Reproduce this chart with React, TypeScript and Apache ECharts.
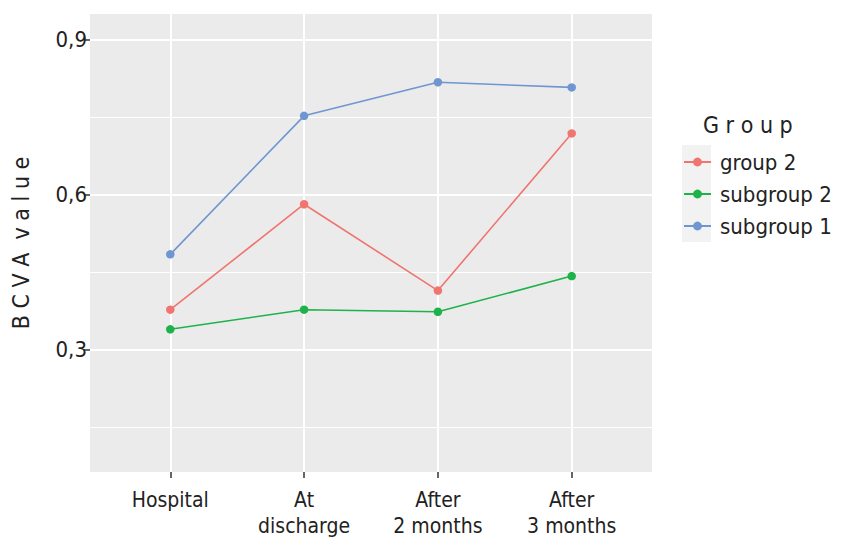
import React, { useEffect, useRef } from "react";
import * as echarts from "echarts";

const categories = ["Hospital", "At\ndischarge", "After\n2 months", "After\n3 months"];
const xPositions = [1, 2, 3, 4];
const seriesNames = ["group 2", "subgroup 2", "subgroup 1"];
const group2 = [0.377, 0.581, 0.414, 0.718];
const subgroup2 = [0.339, 0.377, 0.373, 0.442];
const subgroup1 = [0.484, 0.752, 0.817, 0.807];
const majorY = [0.3, 0.6, 0.9];
const minorY = [0.15, 0.45, 0.75];
const yTickLabels = ["0,3", "0,6", "0,9"];
const colors = ["#F07470", "#1DB34A", "#6F96D1"];

const FONT = "'DejaVu Sans Condensed', 'Liberation Sans Narrow', sans-serif";

export default function App() {
  const ref = useRef<HTMLDivElement>(null);
  useEffect(() => {
    if (!ref.current) return;
    document.body.style.margin = "0";
    const chart = echarts.init(ref.current, null, { renderer: "svg" });
    const values = [group2, subgroup2, subgroup1];
    const dataSeries = seriesNames.map((name, i) => ({
      name,
      type: "line",
      z: 3,
      data: xPositions.map((x, j) => [x, values[i][j]]),
      symbol: "circle",
      symbolSize: 8.5,
      itemStyle: { color: colors[i], borderWidth: 0 },
      lineStyle: { color: colors[i], width: 1.6 },
    }));
    const grid = {
      name: "grid",
      type: "line",
      z: 1,
      data: [],
      silent: true,
      markLine: {
        z: 1,
        silent: true,
        symbol: ["none", "none"],
        label: { show: false },
        emphasis: { disabled: true },
        data: [
          ...minorY.map((v) => ({ yAxis: v, lineStyle: { color: "#ffffff", width: 1, type: "solid" } })),
          ...majorY.map((v) => ({ yAxis: v, lineStyle: { color: "#ffffff", width: 2, type: "solid" } })),
          ...xPositions.map((v) => ({ xAxis: v, lineStyle: { color: "#ffffff", width: 2, type: "solid" } })),
        ],
      },
    };
    chart.setOption({
      animation: false,
      textStyle: { fontFamily: FONT },
      grid: {
        left: 90,
        right: 194,
        top: 14,
        bottom: 80,
        show: true,
        backgroundColor: "#EBEBEB",
        borderWidth: 0,
      },
      title: {
        text: "G r o u p",
        left: 698,
        top: 108,
        textStyle: { fontFamily: FONT, fontSize: 23, fontWeight: "normal", color: "#222" },
      },
      legend: {
        data: seriesNames,
        orient: "vertical",
        left: 683,
        top: 151,
        padding: 0,
        itemWidth: 27,
        itemHeight: 11,
        itemGap: 10,
        textStyle: { fontFamily: FONT, fontSize: 22, color: "#222", lineHeight: 22, padding: [0, 0, 0, 4] },
      },
      graphic: [
        {
          type: "rect",
          left: 682,
          top: 145,
          shape: { width: 29, height: 97 },
          style: { fill: "#F2F2F2" },
          z: -1,
        },
      ],
      xAxis: {
        type: "value",
        min: 0.4,
        max: 4.6,
        axisLine: { show: false },
        splitLine: { show: false },
        axisTick: { show: true, customValues: xPositions, length: 6, lineStyle: { color: "#333", width: 1.5 } },
        axisLabel: {
          customValues: xPositions,
          formatter: (v: number) => categories[Math.round(v) - 1] ?? "",
          fontFamily: FONT,
          fontSize: 21,
          color: "#222",
          lineHeight: 26,
          margin: 15,
        },
      },
      yAxis: {
        type: "value",
        min: 0.063,
        max: 0.949,
        name: "B C V A  v a l u e",
        nameLocation: "middle",
        nameGap: 58,
        nameTextStyle: { fontFamily: FONT, fontSize: 23, color: "#222" },
        axisLine: { show: false },
        splitLine: { show: false },
        axisTick: { show: true, customValues: majorY, length: 6, lineStyle: { color: "#333", width: 1.5 } },
        axisLabel: {
          customValues: majorY,
          formatter: (v: number) => yTickLabels[majorY.findIndex((m) => Math.abs(m - v) < 1e-6)] ?? "",
          fontFamily: FONT,
          fontSize: 22,
          color: "#222",
          margin: 3,
        },
      },
      series: [grid, ...dataSeries],
    });
    return () => chart.dispose();
  }, []);
  return <div ref={ref} style={{ width: 846, height: 552 }} />;
}
